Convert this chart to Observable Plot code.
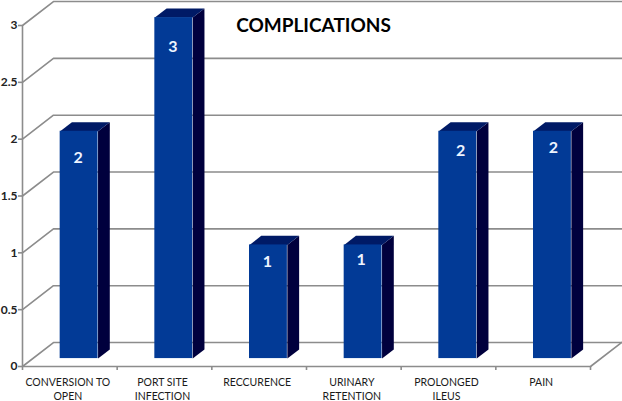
<!DOCTYPE html>
<html>
<head>
<meta charset="utf-8">
<script src="https://cdn.jsdelivr.net/npm/d3@7"></script>
<script src="https://cdn.jsdelivr.net/npm/@observablehq/plot@0.6"></script>
<style>html,body{margin:0;padding:0;background:#fff}svg{display:block}</style>
</head>
<body>
<div id="chart"></div>
<script>
const title = "COMPLICATIONS";
const categories = ["CONVERSION TO\nOPEN", "PORT SITE\nINFECTION", "RECCURENCE", "URINARY\nRETENTION", "PROLONGED\nILEUS", "PAIN"];
const values = [2, 3, 1, 1, 2, 2];
const yTicks = [0, 0.5, 1, 1.5, 2, 2.5, 3];

// oblique projection of the chart's depth axis, in scale units
const skewX = 0.327, skewY = 0.211;
const xMax = 6.338, yMax = 3.22;
const barWidth = 0.4, barCenter = 0.49, depthFront = 0.33, depthBack = 0.71;

// hand-placement of the value labels as seen in the picture (scale units)
const labelShiftX = [-0.01, -0.01, -0.01, -0.02, 0.03, 0.01];
const labelDrop = [0.23, 0.26, 0.15, 0.13, 0.17, 0.15];

const at = (i, v, depth) => ({x: i + depth * skewX, y: v + depth * skewY});
const poly = (id, pts) => pts.map(p => ({id, ...p}));

const bars = values.map((v, i) => ({i, v, l: i + barCenter - barWidth / 2, r: i + barCenter + barWidth / 2}));

const sideFaces = bars.flatMap(b => poly(b.i, [
  at(b.r, 0, depthFront), at(b.r, 0, depthBack), at(b.r, b.v, depthBack), at(b.r, b.v, depthFront)
]));
const topFaces = bars.flatMap(b => poly(b.i, [
  at(b.l, b.v, depthFront), at(b.r, b.v, depthFront), at(b.r, b.v, depthBack), at(b.l, b.v, depthBack)
]));
const frontFaces = bars.map(b => {
  const a = at(b.l, 0, depthFront), c = at(b.r, b.v, depthFront);
  return {x1: a.x, x2: c.x, y1: a.y, y2: c.y};
});
const gridLines = yTicks.flatMap(v => poly(v, [at(0, v, 0), at(0, v, 1), {x: xMax, y: v + skewY}]));
const floorEdge = poly("floor", [at(0, 0, 0), at(6, 0, 0), at(6, 0, 1), {x: xMax, y: skewY}]);

const gray = "#8c8c8c";
const font = "Lato, 'Open Sans', sans-serif";

const chart = Plot.plot({
  width: 622,
  height: 401,
  marginLeft: 22,
  marginRight: 0,
  marginTop: 0,
  marginBottom: 35,
  style: {fontFamily: font, background: "#fff"},
  x: {type: "linear", domain: [0, xMax]},
  y: {type: "linear", domain: [0, yMax]},
  marks: [
    Plot.line(gridLines, {x: "x", y: "y", z: "id", stroke: gray, strokeWidth: 1.6}),
    Plot.line(floorEdge, {x: "x", y: "y", z: "id", stroke: gray, strokeWidth: 1.6}),
    Plot.ruleX([0], {y1: 0, y2: 3, stroke: gray, strokeWidth: 1.6}),
    Plot.line(sideFaces, {x: "x", y: "y", z: "id", fill: "#00003d", stroke: null}),
    Plot.line(topFaces, {x: "x", y: "y", z: "id", fill: "#001a66", stroke: null}),
    Plot.rect(frontFaces, {x1: "x1", x2: "x2", y1: "y1", y2: "y2", fill: "#023a96"}),
    Plot.text(bars, {
      x: b => at(b.i + barCenter + labelShiftX[b.i], 0, depthFront).x,
      y: b => at(0, b.v - labelDrop[b.i], depthFront).y,
      text: b => String(b.v),
      fill: "#eef4ff",
      fontSize: 16,
      fontWeight: 700
    }),
    Plot.axisY({
      ticks: yTicks, tickSize: 4, tickPadding: 1, label: null, tickFormat: d => String(d),
      stroke: gray, strokeWidth: 1.6, fill: "#222", fontSize: 12, fontWeight: 700
    }),
    Plot.axisX({
      ticks: d3.range(0, 7), tickSize: 4, tickFormat: () => "", label: null,
      stroke: gray, strokeWidth: 1.6
    }),
    Plot.axisX({
      ticks: categories.map((c, i) => i + 0.5), tickSize: 0, tickPadding: 10, label: null,
      tickFormat: d => categories[d - 0.5], dx: -2,
      fill: "#1a1a1a", fontSize: 10.5, lineHeight: 1.3
    }),
    Plot.text([title], {
      frameAnchor: "top", dx: -9, dy: 18,
      fill: "#000", fontSize: 19, fontWeight: 700
    })
  ]
});
document.getElementById("chart").append(chart);
</script>
</body>
</html>
